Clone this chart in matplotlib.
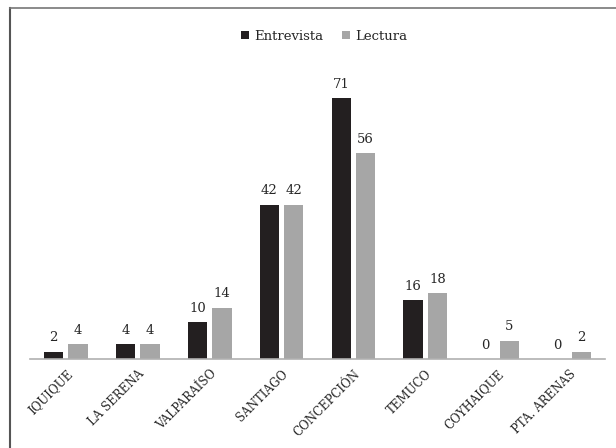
import matplotlib
matplotlib.use("Agg")
import matplotlib.pyplot as plt
import numpy as np
from matplotlib.lines import Line2D

# ── data ────────────────────────────────────────────────────────────────────────
cities     = ["IQUIQUE", "LA SERENA", "VALPARAÍSO", "SANTIAGO",
              "CONCEPCIÓN", "TEMUCO", "COYHAIQUE", "PTA. ARENAS"]
entrevista = [2, 4, 10, 42, 71, 16, 0, 0]
lectura    = [4, 4, 14, 42, 56, 18, 5, 2]

BLACK = "#231f20"
GRAY  = "#a6a6a6"
TEXT  = "#262626"
FONT  = "DejaVu Serif"

fig = plt.figure(figsize=(6.16, 4.48), dpi=100)
ax = fig.add_axes([30 / 616, 89 / 448, 575 / 616, 294 / 448])

x = np.arange(len(cities))
w = 0.27
off = 0.17
b1 = ax.bar(x - off, entrevista, w, color=BLACK, label="Entrevista")
b2 = ax.bar(x + off, lectura, w, color=GRAY, label="Lectura")

for bars, vals in ((b1, entrevista), (b2, lectura)):
    for rect, v in zip(bars, vals):
        ax.text(rect.get_x() + rect.get_width() / 2, v + 2.0, str(v),
                ha="center", va="bottom", fontsize=9.5, family=FONT,
                color=TEXT)

ax.set_xlim(-0.5, len(cities) - 0.5)
ax.set_ylim(0, 80)
ax.set_yticks([])
ax.set_xticks(x)
ax.set_xticklabels(cities, rotation=45, ha="right", va="top",
                   rotation_mode="anchor", fontsize=8.5, family=FONT,
                   color=TEXT)
ax.tick_params(axis="x", length=0, pad=6)
for side in ("top", "right", "left"):
    ax.spines[side].set_visible(False)
ax.spines["bottom"].set_color("#b0b0b0")
ax.spines["bottom"].set_linewidth(1.2)

# legend across the top
leg = fig.legend(handles=[b1, b2], loc="center",
                 bbox_to_anchor=(324 / 616, 1 - 36 / 448),
                 ncol=2, frameon=False, prop={"family": FONT, "size": 9.5},
                 handlelength=0.6, handleheight=0.6, handletextpad=0.4,
                 columnspacing=1.4)
for t in leg.get_texts():
    t.set_color(TEXT)

# border lines on the top and left
fig.add_artist(Line2D([10 / 616, 10 / 616], [0, 1 - 8 / 448], color="#555555",
                      lw=1.5, transform=fig.transFigure))
fig.add_artist(Line2D([10 / 616, 1], [1 - 8 / 448, 1 - 8 / 448], color="#777777",
                      lw=1.2, transform=fig.transFigure))

fig.savefig("out.png", dpi=100)
